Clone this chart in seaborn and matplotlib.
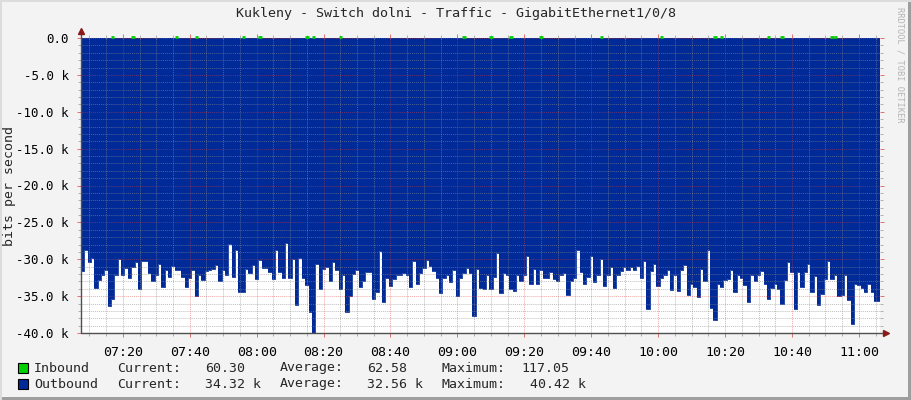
import matplotlib
matplotlib.use("Agg")
import matplotlib.pyplot as plt
import matplotlib.dates as mdates
from matplotlib.patches import Rectangle
from matplotlib.ticker import MultipleLocator, FuncFormatter
import numpy as np
import pandas as pd
import seaborn as sns

TITLE = "Kukleny - Switch dolni - Traffic - GigabitEthernet1/0/8"
Y_LABEL = "bits per second"
WATERMARK = "RRDTOOL / TOBI OETIKER"
START = "2024-01-01 07:07:30"
END = "2024-01-01 11:06:18"

# inbound, bits per second (one sample per minute)
inbound_bps = [
    58, 61, 57, 63, 59, 62, 56, 60, 64, 108, 59, 57, 61, 63, 58, 112, 60,
    62, 57, 59, 61, 64, 58, 60, 56, 62, 59, 63, 105, 58, 61, 57, 60, 62,
    110, 59, 61, 57, 63, 60, 58, 62, 56, 61, 59, 64, 57, 60, 104, 62, 58,
    61, 57, 117, 60, 63, 58, 62, 59, 56, 61, 64, 57, 60, 63, 58, 61, 106,
    59, 109, 62, 57, 60, 64, 58, 61, 56, 103, 60, 63, 57, 62, 59, 61, 58,
    63, 57, 60, 62, 58, 61, 64, 56, 59, 62, 60, 57, 63, 58, 61, 59, 62,
    57, 60, 63, 58, 61, 56, 62, 59, 64, 57, 60, 62, 107, 58, 61, 59, 63,
    60, 57, 62, 111, 59, 61, 58, 63, 57, 102, 60, 62, 59, 56, 61, 64, 58,
    62, 105, 57, 60, 63, 58, 61, 59, 56, 62, 60, 64, 57, 61, 58, 63, 59,
    61, 58, 110, 62, 57, 60, 64, 59, 61, 56, 63, 58, 60, 62, 57, 61, 59,
    58, 62, 60, 104, 57, 63, 59, 61, 56, 64, 58, 60, 62, 57, 61, 59, 63,
    60, 57, 108, 62, 101, 59, 61, 56, 63, 58, 60, 64, 57, 62, 59, 61, 58,
    62, 106, 59, 61, 57, 103, 60, 63, 58, 56, 62, 59, 61, 64, 57, 60, 58,
    61, 59, 63, 109, 104, 57, 60, 62, 58, 61, 56, 64, 59, 62, 57, 61, 60.3,
]

# outbound, kbits per second, drawn negative
outbound_k = [
    -31.6, -28.7, -30.4, -29.8, -33.9, -32.8, -32.1, -31.5, -36.4, -35.4,
    -32.1, -30.0, -32.1, -31.2, -32.6, -31.0, -30.4, -34.1, -30.3, -30.3,
    -31.8, -33.0, -32.1, -30.7, -33.7, -31.5, -32.4, -30.9, -31.4, -31.4,
    -32.4, -33.8, -32.6, -31.5, -35.0, -32.1, -32.8, -31.6, -31.4, -31.3,
    -30.8, -33.0, -31.4, -32.1, -27.9, -32.4, -28.8, -34.4,
    -34.5, -31.3, -31.8, -30.8, -32.7, -30.1, -31.2, -31.2, -31.7, -32.7,
    -28.7, -31.7, -32.5, -27.8, -32.5, -29.9, -36.2, -29.8, -32.6, -33.5,
    -37.1, -40.4, -30.7, -34.1, -31.3, -31.0, -32.9, -30.4, -31.4, -34.1,
    -32.1, -37.2, -35.0, -32.0, -31.4, -33.7, -33.0, -31.7, -31.7, -35.4,
    -34.4, -28.9, -35.8, -32.6, -33.6, -32.7, -32.1,
    -32.1, -31.8, -32.1, -33.8, -30.3, -33.4, -31.9, -31.2, -30.1, -30.9,
    -31.6, -32.6, -34.6, -32.6, -32.1, -33.1, -31.5, -35.0, -32.6, -31.8,
    -31.2, -31.8, -37.7, -31.3, -33.9, -34.0, -32.1, -34.0, -32.4, -29.1,
    -34.6, -31.8, -32.2, -34.0, -34.3, -32.1, -33.0, -32.2, -29.6, -33.3,
    -31.3, -33.3, -31.5, -32.5, -32.6, -31.7, -32.7,
    -32.9, -32.1, -31.9, -34.8, -33.0, -32.6, -28.7, -31.7, -33.3, -32.4,
    -29.6, -33.1, -32.1, -30.0, -33.6, -32.1, -31.1, -33.9, -32.1, -31.6,
    -31.1, -31.5, -31.1, -31.4, -30.9, -32.6, -30.3, -36.8, -31.6, -30.7,
    -33.6, -32.5, -32.1, -31.5, -34.2, -32.1, -34.3, -31.4, -30.8, -34.9,
    -33.4, -33.7, -35.1, -31.3, -32.9, -28.8, -36.6, -38.3,
    -33.4, -33.8, -32.8, -32.7, -31.5, -34.5, -32.2, -32.6, -33.5, -35.8,
    -32.1, -32.9, -32.1, -31.6, -33.3, -35.4, -33.9, -33.3, -34.0, -36.0,
    -32.8, -30.4, -31.7, -36.7, -31.7, -33.7, -31.7, -30.6, -34.5, -32.3,
    -36.2, -34.7, -32.7, -30.3, -32.7, -32.1, -35.0, -34.8, -32.1, -35.5,
    -38.8, -33.3, -33.5, -33.9, -34.5, -33.4, -34.5, -35.7,
]

legend_rows = [
    ("Inbound", "#00CF00", "60.30", "62.58", "117.05"),
    ("Outbound", "#002A97", "34.32 k", "32.56 k", "40.42 k"),
]

BLUE = "#002A97"
GREEN = "#00CF00"
BG = "#F3F3F3"
ARROW = "#8B1A1A"
MONO = "DejaVu Sans Mono"

sns.set_style("white")
plt.rcParams["font.family"] = [MONO, "DejaVu Sans"]

W, H = 911, 400
times = pd.date_range(START, periods=len(outbound_k), freq="1min")
end = pd.Timestamp(END)
df = pd.DataFrame({"time": times, "inbound": inbound_bps, "outbound": outbound_k})

fig = plt.figure(figsize=(W / 100, H / 100), dpi=100, facecolor=BG)
ax = fig.add_axes([81 / W, 1 - 333 / H, 799 / W, 295 / H])
ax.set_facecolor("white")

# step areas, extended to the right edge
t_ext = list(df["time"]) + [end]
out_ext = list(df["outbound"]) + [df["outbound"].iloc[-1]]
ax.fill_between(t_ext, 0, out_ext, step="post", color=BLUE, lw=0, zorder=1)
sns.lineplot(x=t_ext, y=out_ext, drawstyle="steps-post", color=BLUE, lw=0.6, ax=ax, zorder=1.2)

# inbound only reaches one pixel where it peaks
peaks = df[df["inbound"] >= 100]
ax.hlines(peaks["inbound"] / 1000, peaks["time"], peaks["time"] + pd.Timedelta(minutes=1),
          color=GREEN, lw=2, clip_on=False, zorder=4)

ax.set_xlim(pd.Timestamp(START), end)
ax.set_ylim(-40, 0)
ax.set_xlabel("")
ax.set_ylabel("")

ax.xaxis.set_major_locator(mdates.MinuteLocator(byminute=[0, 20, 40]))
ax.xaxis.set_minor_locator(mdates.MinuteLocator(byminute=[m for m in range(0, 60, 5) if m % 20]))
ax.xaxis.set_major_formatter(mdates.DateFormatter("%H:%M"))
ax.yaxis.set_major_locator(MultipleLocator(5))
ax.yaxis.set_minor_locator(MultipleLocator(1))
ax.yaxis.set_major_formatter(FuncFormatter(lambda v, p: "0.0" if abs(v) < 1e-9 else f"{v:.1f} k"))

ax.set_axisbelow(False)
ax.grid(which="minor", color="#8C8C8C", alpha=0.55, ls=(0, (1, 1)), lw=0.7)
ax.grid(which="major", color="#E04040", alpha=0.45, ls=(0, (1, 1)), lw=0.7)

ax.tick_params(which="both", direction="out", colors="black",
               left=True, right=True, bottom=True, top=True)
ax.tick_params(which="major", length=3, width=0.7, color="#E07070")
ax.tick_params(which="minor", length=2, width=0.7, color="#B0B0B0")
ax.tick_params(axis="x", which="major", pad=6, labelsize=9.5)
ax.tick_params(axis="y", which="major", pad=6, labelsize=9)

for s in ax.spines.values():
    s.set_visible(False)

# axis lines with arrows
ax.plot([0, 1.008], [0, 0], transform=ax.transAxes, color="#505050", lw=1, clip_on=False, zorder=5)
ax.plot([0, 0], [0, 1.02], transform=ax.transAxes, color="#505050", lw=1, clip_on=False, zorder=5)
ax.plot([1.008], [0], marker=">", ms=5, color=ARROW, transform=ax.transAxes, clip_on=False, zorder=6)
ax.plot([0], [1.025], marker="^", ms=5, color=ARROW, transform=ax.transAxes, clip_on=False, zorder=6)

fig.text(0.5, 1 - 14 / H, TITLE, ha="center", va="center", fontsize=9.6)
fig.text(10 / W, 1 - 186 / H, Y_LABEL, ha="center", va="center", rotation=90, fontsize=9.5)
fig.text(900 / W, 1 - 7 / H, WATERMARK, ha="center", va="top", rotation=270,
         fontsize=6.2, color="#B4B4B4")

# legend rows
cols = [34, 117, 205, 280, 367, 441, 521]
for i, (name, color, cur, avg, mx) in enumerate(legend_rows):
    y = 368 + 16 * i
    fig.patches.append(Rectangle((18 / W, 1 - (y + 5) / H), 10 / W, 10 / H,
                                 transform=fig.transFigure, facecolor=color,
                                 edgecolor="black", lw=0.8))
    items = [name, "Current:", cur, "Average:", avg, "Maximum:", mx]
    for x, txt in zip(cols, items):
        if txt.endswith(" k") and txt is mx:
            x = 530
        fig.text(x / W, 1 - y / H, txt, ha="left", va="center", fontsize=9.5)

# frame shading
fig.patches.append(Rectangle((0, 0), 1, 3 / H, transform=fig.transFigure, facecolor="#9E9E9E", lw=0))
fig.patches.append(Rectangle((1 - 3 / W, 0), 3 / W, 1, transform=fig.transFigure, facecolor="#9E9E9E", lw=0))
fig.patches.append(Rectangle((0, 1 - 2 / H), 1, 2 / H, transform=fig.transFigure, facecolor="#DCDCDC", lw=0))
fig.patches.append(Rectangle((0, 0), 2 / W, 1, transform=fig.transFigure, facecolor="#DCDCDC", lw=0))

fig.savefig("out.png", dpi=100, facecolor=BG)
